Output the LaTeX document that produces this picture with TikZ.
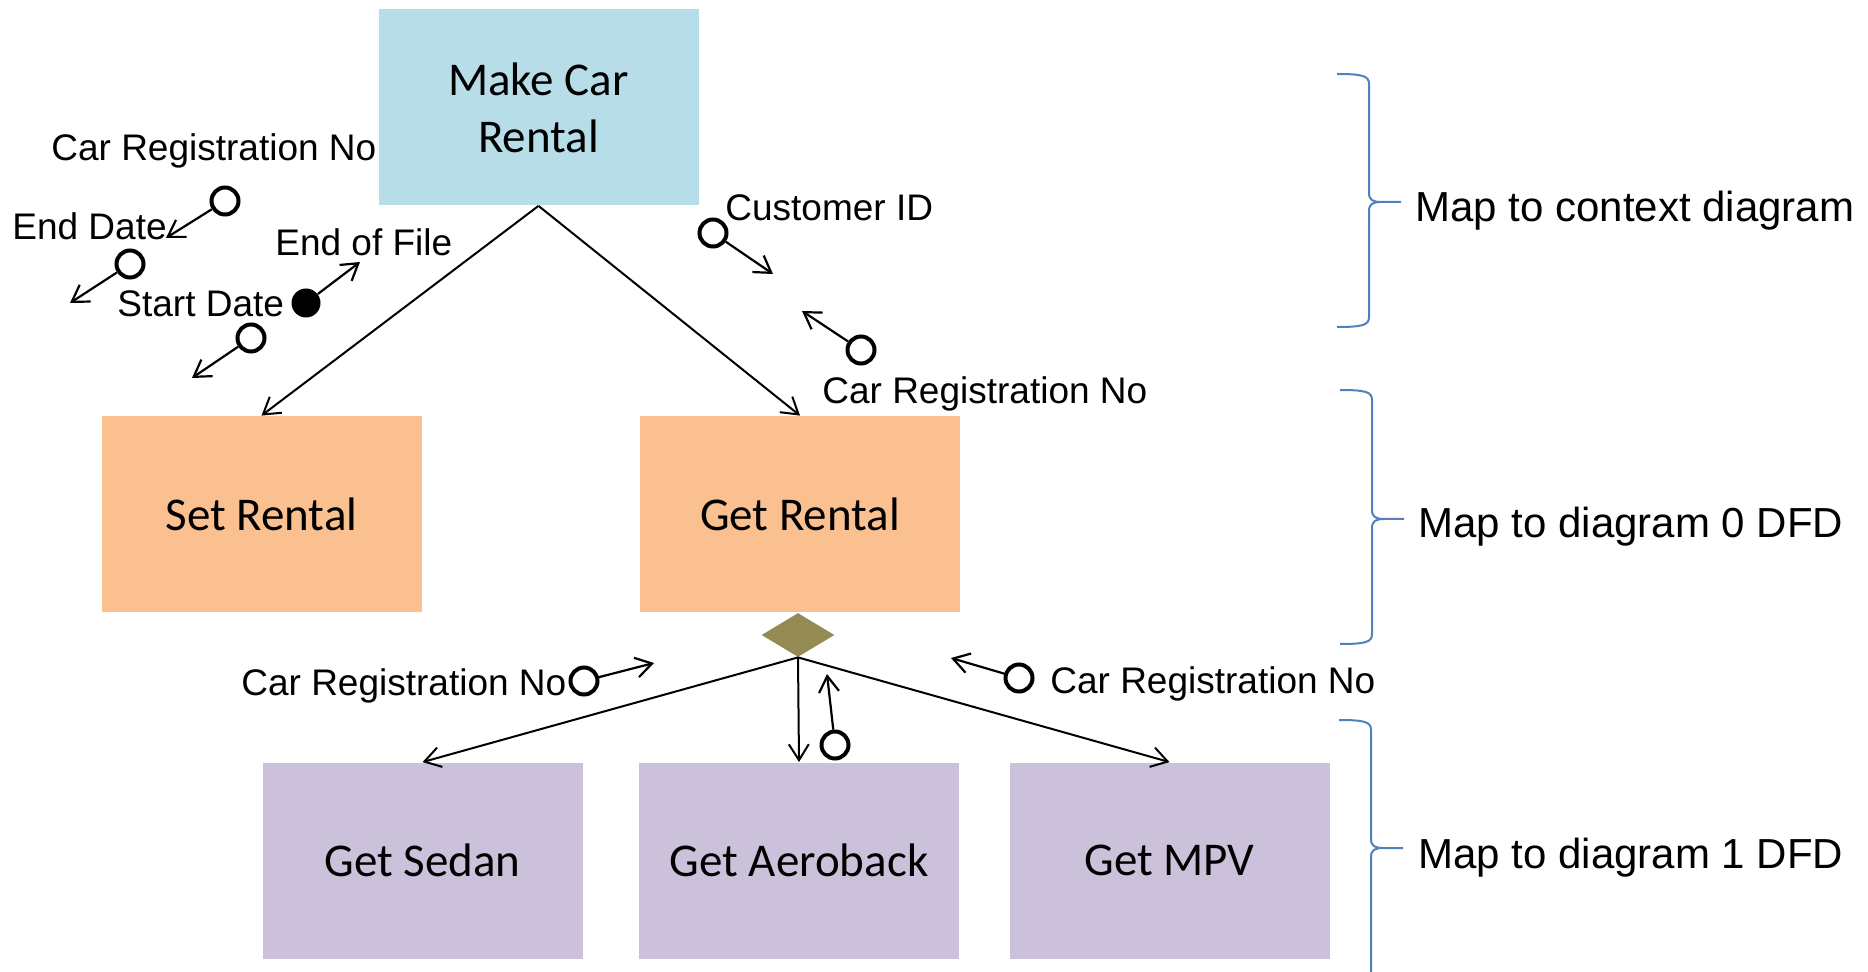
\documentclass[tikz,border=0pt]{standalone}
\usepackage{fontspec}
\setmainfont{Liberation Sans}
\newfontfamily\boxfont{Carlito}
\usepackage{tikz}
\usetikzlibrary{arrows.meta,positioning,shapes.geometric}
\definecolor{contextblue}{HTML}{B7DEE8}
\definecolor{levelorange}{HTML}{FAC090}
\definecolor{levelpurple}{HTML}{CCC1DA}
\definecolor{selectolive}{HTML}{948A54}
\definecolor{braceblue}{HTML}{4F81BD}

\begin{document}
\begin{tikzpicture}[x=0.5pt,y=-0.5pt,
    module/.style={inner sep=0pt,minimum width=160pt,minimum height=98pt,align=center,font=\boxfont\fontsize{23.5}{28.5}\selectfont},
    datacouple/.style={circle,draw,line width=2pt,minimum size=13.5pt,inner sep=0pt},
    flagcouple/.style={circle,fill,minimum size=14.5pt,inner sep=0pt},
    couplelabel/.style={inner sep=0pt,anchor=base west,font=\fontsize{18.5}{22}\selectfont},
    maplabel/.style={inner sep=0pt,anchor=base west,font=\fontsize{21}{25}\selectfont},
    call/.style={line width=1pt,-{Straight Barb[length=8pt,width=10pt]}},
    pass/.style={line width=1.1pt,-{Straight Barb[length=8pt,width=10pt]}},
    mapbrace/.style={braceblue,line width=1pt}]
    \clip (0,0) rectangle (1868,972);
    % modules
    \node[module,fill=contextblue] (make) at (538.5,107.5) {Make Car\\Rental};
    \node[module,fill=levelorange] (set) at (261.5,514) {Set Rental};
    \node[module,fill=levelorange] (get) at (800,514) {Get Rental};
    \node[diamond,fill=selectolive,minimum width=36.5pt,minimum height=22pt,inner sep=0pt] (sel) at (798,635) {};
    \node[module,fill=levelpurple] (sedan) at (422.5,860.5) {Get Sedan};
    \node[module,fill=levelpurple] (aero) at (799,860.5) {Get Aeroback};
    \node[module,fill=levelpurple] (mpv) at (1169.5,860.5) {Get MPV};
    % calls
    \foreach \n in {set,get} {\draw[call] (make.south) -- (\n.north);}
    \foreach \n in {sedan,aero,mpv} {\draw[call] (sel.south) -- (\n.north);}
    % couples
    \node[datacouple] (regA) at (225,201) {};
    \node[datacouple] (endD) at (130,264) {};
    \node[flagcouple] (eof) at (306,303) {};
    \node[datacouple] (startD) at (251,338) {};
    \node[datacouple] (cust) at (713,233) {};
    \node[datacouple] (regB) at (861,350) {};
    \node[datacouple] (regC) at (584,681) {};
    \node[datacouple] (back) at (835,745) {};
    \node[datacouple] (regD) at (1019,678) {};
    \coordinate (regAtip) at (166,238);
    \coordinate (endDtip) at (70,303);
    \coordinate (eoftip) at (360,262);
    \coordinate (startDtip) at (192,378);
    \coordinate (custtip) at (773,274);
    \coordinate (regBtip) at (802,311);
    \coordinate (regCtip) at (654,663);
    \coordinate (backtip) at (827,674);
    \coordinate (regDtip) at (951,658);
    \foreach \c in {regA,endD,eof,startD,cust,regB,regC,back,regD} {\draw[pass] (\c) -- (\c tip);}
    % couple labels
    \node[couplelabel] (regAlbl) at (51,161) {Car Registration No};
    \node[couplelabel] (endDlbl) at (12,240) {End Date};
    \node[couplelabel] (eoflbl) at (275,256) {End of File};
    \node[couplelabel] (startDlbl) at (117,317) {Start Date};
    \node[couplelabel] (custlbl) at (725,221) {Customer ID};
    \node[couplelabel] (regBlbl) at (822,404) {Car Registration No};
    \node[couplelabel] (regClbl) at (241,695) {Car Registration No};
    \node[couplelabel] (regDlbl) at (1050,693) {Car Registration No};
    % braces
    \foreach \bx/\btop/\bmid/\bbot in {1369/74/202/327,1372/390/519/644,1371/720/848/985} {
      \draw[mapbrace] (\bx-32,\btop) .. controls (\bx-6,\btop) and (\bx,\btop+2) .. (\bx,\btop+10)
        -- (\bx,\bmid-9) .. controls (\bx,\bmid-2) and (\bx+4,\bmid) .. (\bx+12,\bmid) -- (\bx+32,\bmid);
      \draw[mapbrace] (\bx+12,\bmid) .. controls (\bx+4,\bmid) and (\bx,\bmid+2) .. (\bx,\bmid+9)
        -- (\bx,\bbot-10) .. controls (\bx,\bbot-2) and (\bx-6,\bbot) .. (\bx-32,\bbot);
    }
    \node[maplabel] (ctxlbl) at (1415,222) {Map to context diagram};
    \node[maplabel] (dfd0lbl) at (1418,538) {Map to diagram 0 DFD};
    \node[maplabel] (dfd1lbl) at (1418,868) {Map to diagram 1 DFD};
\end{tikzpicture}
\end{document}
